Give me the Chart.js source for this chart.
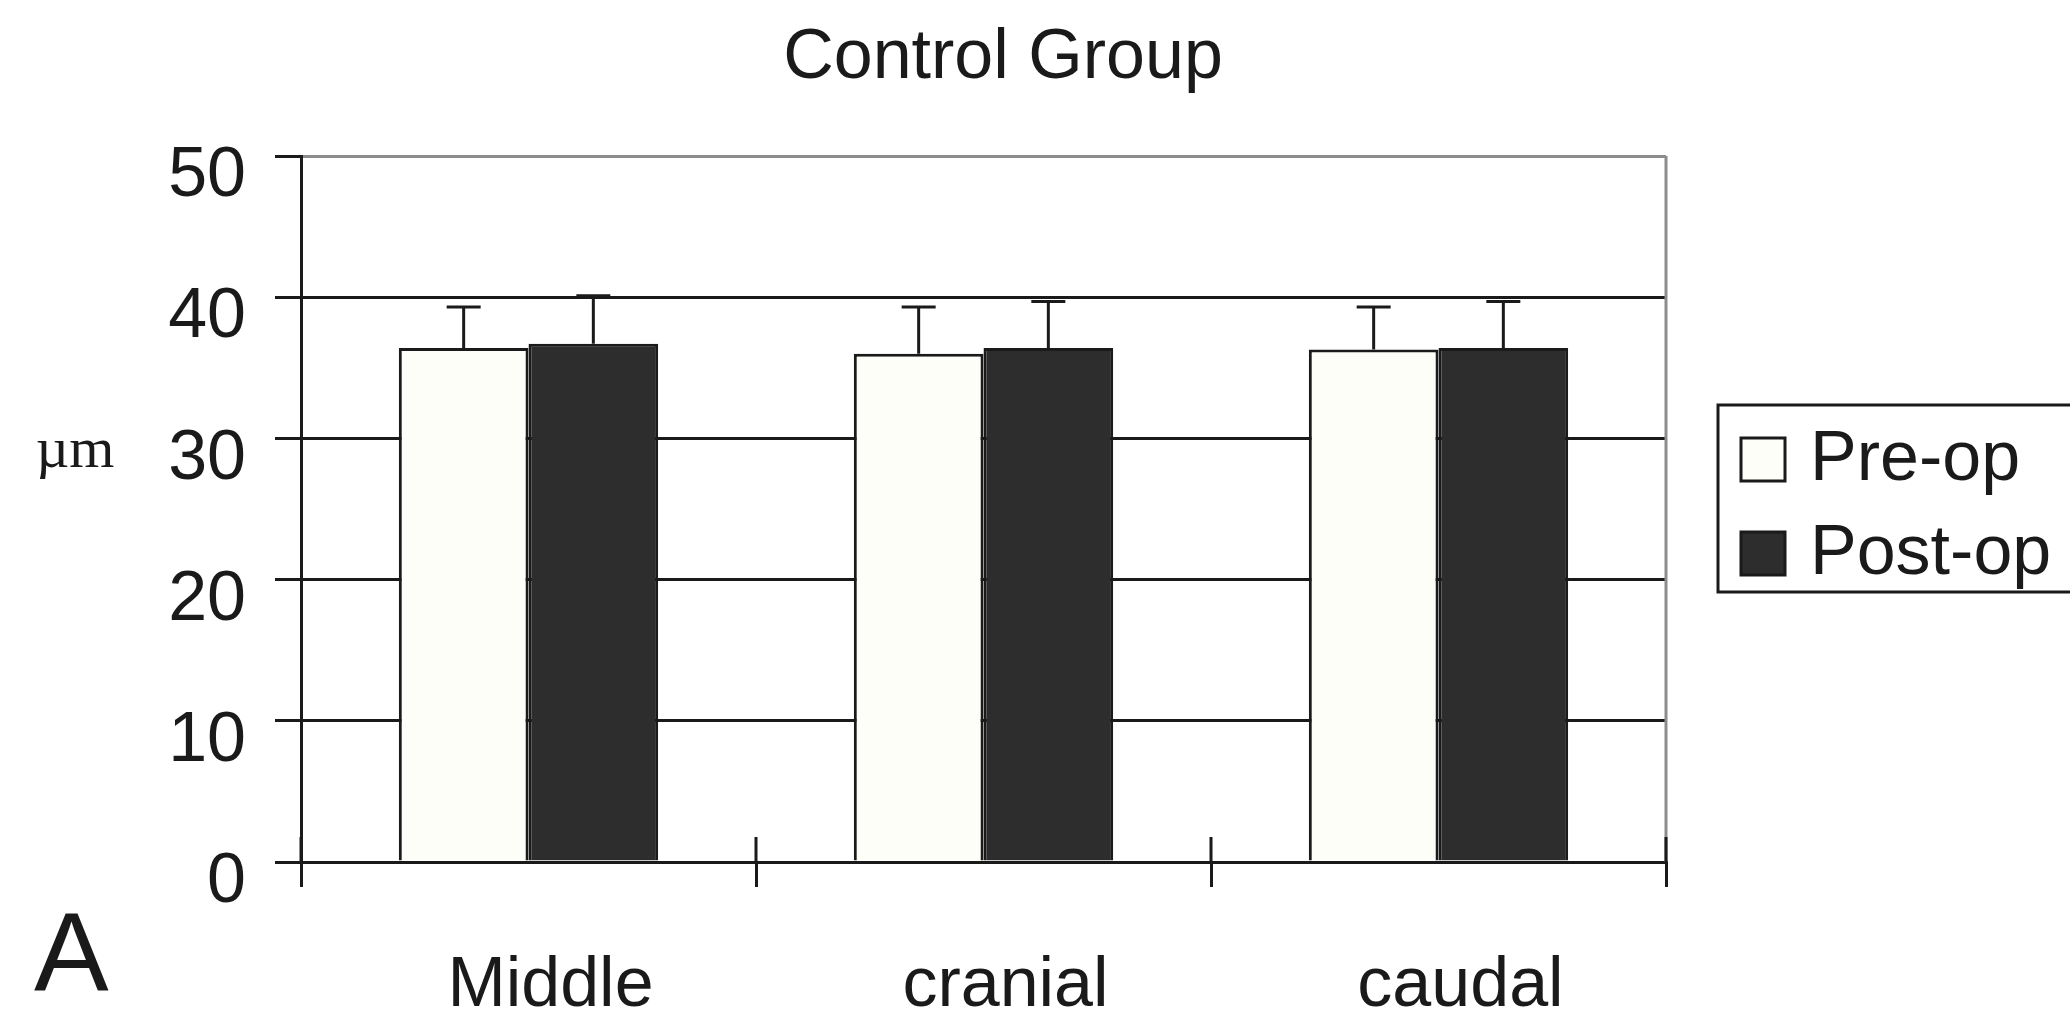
<!DOCTYPE html>
<html>
<head>
<meta charset="utf-8">
<script src="https://cdn.jsdelivr.net/npm/chart.js@4.4.1/dist/chart.umd.min.js"></script>
<style>
    html, body { margin: 0; padding: 0; background: #fff; }
</style>
</head>
<body>
<canvas id="myChart" width="2070" height="1011"></canvas>
<script>
// values (µm)
const sites = ['Middle', 'cranial', 'caudal'];
const preOp = [36.4, 36.0, 36.3];
const postOp = [36.7, 36.4, 36.4];
const preErr = [2.9, 3.3, 3.0];
const postErr = [3.4, 3.3, 3.3];
const yMin = 0;
const yMax = 50;
const yStep = 10;

const ink = '#1a1a1a';
const sans = '"Liberation Sans", Arial, Helvetica, sans-serif';

// error bars, frame bits, title, unit, panel letter and boxed legend
const extras = {
    id: 'extras',
    beforeDatasetsDraw(chart) {
        const ctx = chart.ctx;
        const area = chart.chartArea;
        const x = chart.scales.x;
        ctx.save();
        // grey right frame
        ctx.strokeStyle = '#8c8c8c';
        ctx.lineWidth = 3;
        ctx.beginPath();
        ctx.moveTo(area.right, area.top);
        ctx.lineTo(area.right, area.bottom);
        ctx.stroke();
        // category ticks poking above the axis
        let marks = [area.left, area.right];
        for (let i = 0; i < sites.length - 1; i++) {
            marks.push((x.getPixelForValue(i) + x.getPixelForValue(i + 1)) / 2);
        }
        ctx.strokeStyle = ink;
        ctx.beginPath();
        marks.forEach(m => {
            ctx.moveTo(m, area.bottom - 25);
            ctx.lineTo(m, area.bottom);
        });
        ctx.stroke();
        ctx.restore();
    },
    afterDatasetsDraw(chart) {
        const ctx = chart.ctx;
        const y = chart.scales.y;
        ctx.save();
        ctx.strokeStyle = ink;
        ctx.lineWidth = 3;
        chart.data.datasets.forEach((ds, di) => {
            const meta = chart.getDatasetMeta(di);
            meta.data.forEach((bar, i) => {
                const top = y.getPixelForValue(ds.data[i]);
                const cap = y.getPixelForValue(ds.data[i] + ds.err[i]);
                ctx.beginPath();
                ctx.moveTo(bar.x, top);
                ctx.lineTo(bar.x, cap);
                ctx.moveTo(bar.x - 17, cap);
                ctx.lineTo(bar.x + 17, cap);
                ctx.stroke();
            });
        });
        ctx.restore();
    },
    afterDraw(chart) {
        const ctx = chart.ctx;
        ctx.save();
        ctx.fillStyle = ink;
        ctx.textBaseline = 'alphabetic';

        ctx.font = '70px ' + sans;
        ctx.textAlign = 'center';
        ctx.fillText('Control Group', 1003, 78);

        ctx.font = '58px "Liberation Serif", "Times New Roman", serif';
        ctx.fillText('µm', 75, 467);

        ctx.textAlign = 'left';
        ctx.font = '112px ' + sans;
        ctx.fillText('A', 34, 990);

        // legend
        ctx.lineWidth = 3;
        ctx.strokeStyle = ink;
        ctx.strokeRect(1718, 405, 420, 187);
        ctx.font = '70px ' + sans;
        chart.data.datasets.forEach((ds, i) => {
            const top = 438 + i * 94;
            ctx.fillStyle = ds.backgroundColor;
            ctx.fillRect(1741, top, 44, 43);
            ctx.strokeRect(1741, top, 44, 43);
            ctx.fillStyle = ink;
            ctx.fillText(ds.label, 1810, top + 42);
        });
        ctx.restore();
    }
};

let myChart = new Chart(document.getElementById('myChart'), {
    type: 'bar',
    data: {
        labels: sites,
        datasets: [{
                label: 'Pre-op',
                data: preOp,
                err: preErr,
                backgroundColor: '#fdfef7',
                borderColor: ink,
                borderWidth: 3
            },
            {
                label: 'Post-op',
                data: postOp,
                err: postErr,
                backgroundColor: '#2d2d2d',
                borderColor: ink,
                borderWidth: 3
            }
        ]
    },
    options: {
        responsive: false,
        animation: false,
        events: [],
        datasets: {
            bar: {
                categoryPercentage: 0.57,
                barPercentage: 1.0
            }
        },
        layout: {
            padding: { left: 0, top: 156, right: 404, bottom: 0 }
        },
        plugins: {
            legend: { display: false },
            title: { display: false },
            tooltip: { enabled: false }
        },
        scales: {
            x: {
                afterFit: (scale) => { scale.height = 149; },
                grid: {
                    offset: true,
                    drawOnChartArea: false,
                    drawTicks: true,
                    tickLength: 25,
                    color: ink,
                    lineWidth: 3
                },
                border: { display: true, color: ink, width: 3 },
                ticks: {
                    maxRotation: 0,
                    autoSkip: false,
                    padding: 58,
                    labelOffset: 22,
                    color: ink,
                    font: { family: sans, size: 70 }
                }
            },
            y: {
                min: yMin,
                max: yMax,
                afterFit: (scale) => { scale.width = 301; },
                grid: {
                    color: (c) => (c.tick && c.tick.value === yMax) ? '#8c8c8c' : ink,
                    tickColor: ink,
                    lineWidth: 3,
                    tickLength: 26
                },
                border: { display: true, color: ink, width: 3 },
                ticks: {
                    stepSize: yStep,
                    padding: 29,
                    labelOffset: 21,
                    color: ink,
                    font: { family: sans, size: 70 }
                }
            }
        }
    },
    plugins: [extras]
});
</script>
</body>
</html>
